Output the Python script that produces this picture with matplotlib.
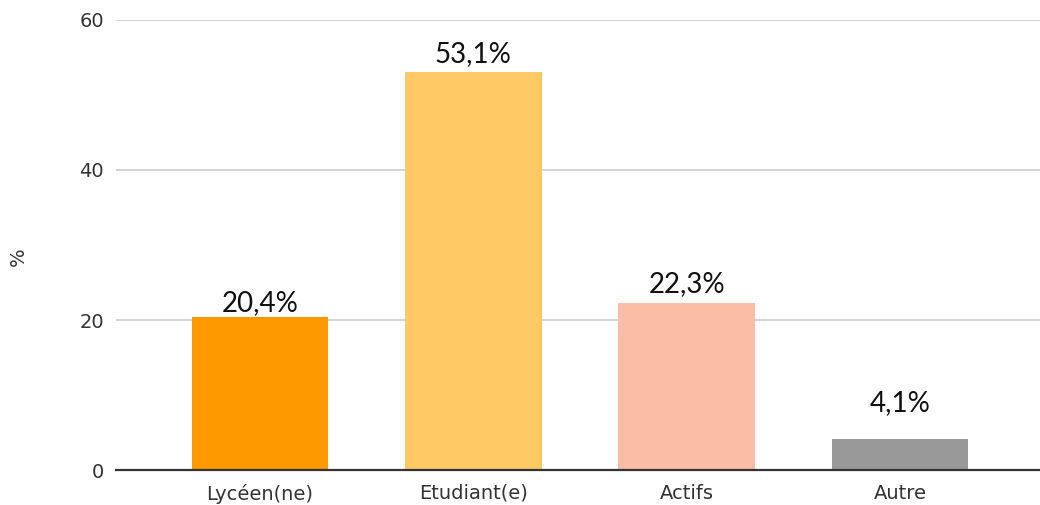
import matplotlib
matplotlib.use("Agg")
import matplotlib.pyplot as plt

categories = ["Lycéen(ne)", "Etudiant(e)", "Actifs", "Autre"]
values = [20.4, 53.1, 22.3, 4.1]
value_labels = ["20,4%", "53,1%", "22,3%", "4,1%"]
y_ticks = [0, 20, 40, 60]

bar_colors = ["#FF9900", "#FFCA66", "#FBBDA6", "#999999"]
label_offsets = [4.5, 7, 8, 20]  # points between bar top and label baseline

fig = plt.figure(figsize=(10.4, 5.05), dpi=100)
ax = fig.add_axes([0.1115, 0.0693, 0.8885, 0.8911])

x = list(range(len(categories)))
ax.bar(x, values, width=0.64, color=bar_colors, zorder=3)

for xi, v, lab, off in zip(x, values, value_labels, label_offsets):
    ax.annotate(lab, (xi, v), xytext=(0, off), textcoords="offset points",
                ha="center", va="baseline", fontsize=20, family="Lato",
                color="#111111", zorder=4)

ax.set_xlim(-0.675, 3.656)
ax.set_ylim(0, 60)
ax.set_yticks(y_ticks)
ax.set_yticklabels([str(t) for t in y_ticks])
ax.set_xticks(x)
ax.set_xticklabels(categories)

for s in ["top", "right", "left"]:
    ax.spines[s].set_visible(False)
ax.spines["bottom"].set_color("#333333")
ax.spines["bottom"].set_linewidth(1.6)
ax.spines["bottom"].set_zorder(5)

ax.yaxis.grid(True, color="#CCCCCC", linewidth=1.2, zorder=0)
ax.set_axisbelow(True)
ax.tick_params(axis="both", length=0, labelsize=14, labelcolor="#333333")
ax.tick_params(axis="y", pad=8.5)
ax.tick_params(axis="x", pad=10)
for t in ax.get_xticklabels() + ax.get_yticklabels():
    t.set_family("DejaVu Sans")

fig.text(18 / 1040, 1 - 257 / 505, "%", rotation=90, ha="center", va="center",
         fontsize=14, color="#333333", family="DejaVu Sans")

fig.savefig("out.png", dpi=100, facecolor="white")
